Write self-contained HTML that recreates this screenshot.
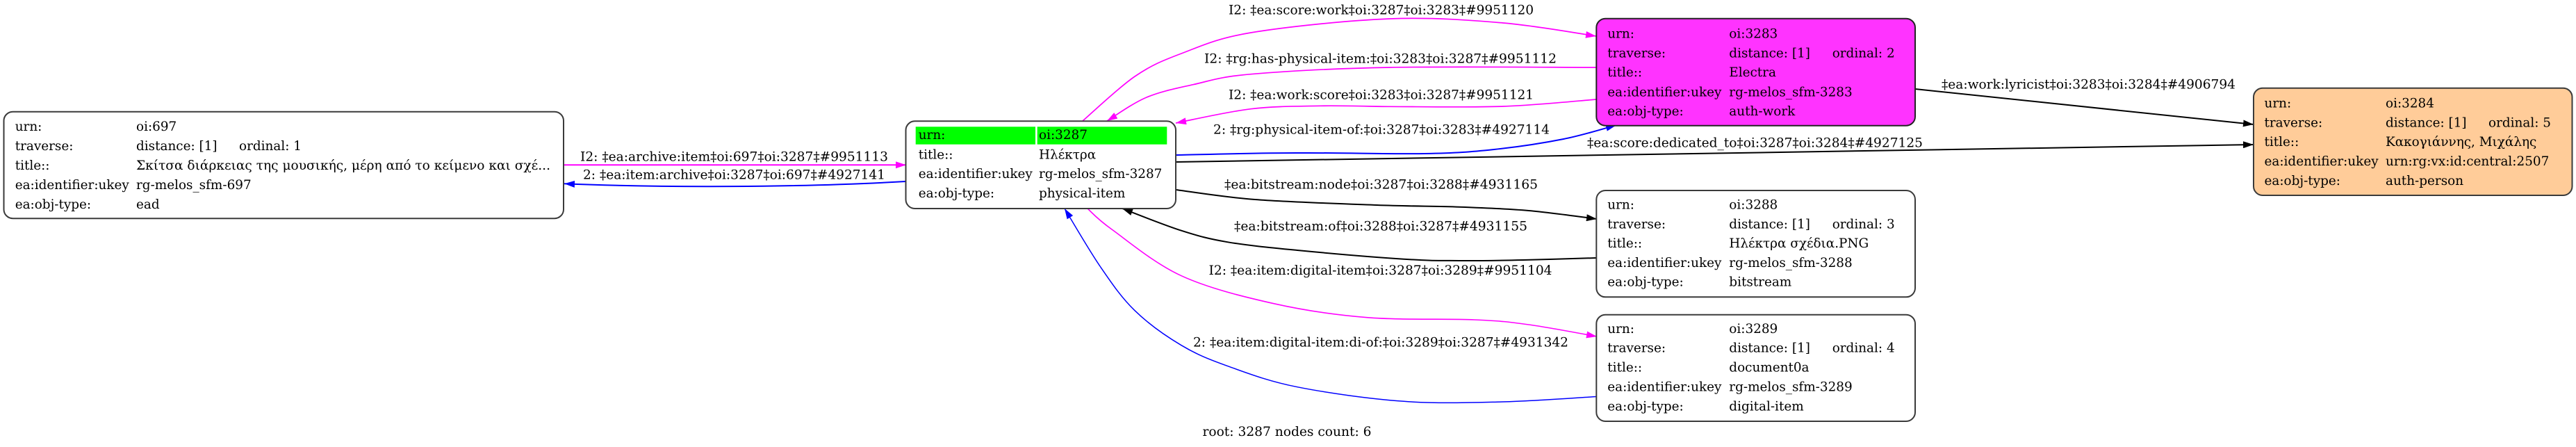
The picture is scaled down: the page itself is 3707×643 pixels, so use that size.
<!DOCTYPE html>
<html>
<head>
<meta charset="utf-8">
<style>
html,body{margin:0;padding:0;background:#fff;}
svg{display:block;}
text{font-family:"DejaVu Serif","Liberation Serif",serif;font-size:18.4px;fill:#000;}
</style>
</head>
<body>
<svg width="3707" height="643" viewBox="0 0 3707 643" xmlns="http://www.w3.org/2000/svg">
<defs>
<marker id="am" viewBox="0 0 15 10" refX="15" refY="5" markerWidth="15" markerHeight="10" markerUnits="userSpaceOnUse" orient="auto"><path d="M0,0 L15,5 L0,10 z" fill="#ff00ff"/></marker>
<marker id="ab" viewBox="0 0 15 10" refX="15" refY="5" markerWidth="15" markerHeight="10" markerUnits="userSpaceOnUse" orient="auto"><path d="M0,0 L15,5 L0,10 z" fill="#0000ff"/></marker>
<marker id="ak" viewBox="0 0 15 10" refX="15" refY="5" markerWidth="15" markerHeight="10" markerUnits="userSpaceOnUse" orient="auto"><path d="M0,0 L15,5 L0,10 z" fill="#000"/></marker>
</defs>
<rect x="0" y="0" width="3707" height="643" fill="#fff"/>

<!-- ===== EDGES ===== -->
<g fill="none">
<!-- E1 697 -> 3287 magenta -->
<path d="M811,237.3 L1304,237.3" stroke="#ff00ff" stroke-width="2" marker-end="url(#am)"/>
<!-- E2 3287 -> 697 blue -->
<path d="M1303,261 C1150,270 950,270 812,264.3" stroke="#0000ff" stroke-width="2" marker-end="url(#ab)"/>
<!-- E3 3287 -> 3283 magenta (score:work) -->
<path d="M1558,174 C1570.5,163.3 1609.3,126.2 1633,110 C1656.7,93.8 1672.2,87.5 1700,77 C1727.8,66.5 1750,55.3 1800,47 C1850,38.7 1939.5,29.3 2000,27 C2060.5,24.7 2113.5,28.8 2163,33 C2212.5,37.2 2274.7,48.8 2297,52" stroke="#ff00ff" stroke-width="1.7" marker-end="url(#am)"/>
<!-- E4 3283 -> 3287 magenta (has-physical-item) -->
<path d="M2297,97 C2247.5,97 2082.8,95.4 2000,97 C1917.2,98.6 1847.2,102.6 1800,106.7 C1752.8,110.8 1742,116.2 1717,121.7 C1692,127.3 1670.7,131.3 1650,140 C1629.3,148.7 1602.5,168.3 1593,174" stroke="#ff00ff" stroke-width="1.7" marker-end="url(#am)"/>
<!-- E5 3283 -> 3287 magenta (work:score) -->
<path d="M2297,143 C2274.7,144.7 2212.5,151.3 2163,153 C2113.5,154.7 2043.8,153.4 2000,153.3 C1977.2,153.2 1933.3,151.7 1900,152.3 C1866.7,152.9 1834.7,152.6 1800,156.7 C1765.3,160.8 1710,173.6 1692,177" stroke="#ff00ff" stroke-width="1.7" marker-end="url(#am)"/>
<!-- E6 3287 -> 3283 blue -->
<path d="M1692,223 C1722.2,222.5 1813.3,219.7 1873,220 C1932.7,219.7 2003.8,221.8 2050,221 C2096.2,220.2 2116.7,218.5 2150,215 C2183.3,211.5 2220.7,205.8 2250,200 C2279.3,194.2 2313.3,183.3 2326,180" stroke="#0000ff" stroke-width="2" marker-end="url(#ab)"/>
<!-- E7 3287 -> 3284 black -->
<path d="M1692,233 L3243,208" stroke="#000" stroke-width="2" marker-end="url(#ak)"/>
<!-- E8 3283 -> 3284 black -->
<path d="M2756,128 L3243,179" stroke="#000" stroke-width="2" marker-end="url(#ak)"/>
<!-- E9 3287 -> 3288 black -->
<path d="M1692,273 C1711,275.3 1757.8,283.3 1806,287 C1854.2,290.7 1932,293.2 1981,295 C2030,296.8 2063.5,296.4 2100,297.7 C2136.5,299 2167,300.1 2200,303 C2233,305.9 2281.7,313 2298,315" stroke="#000" stroke-width="2" marker-end="url(#ak)"/>
<!-- E10 3288 -> 3287 black -->
<path d="M2297,371 C2279.5,371.5 2224.8,373.3 2192,374 C2159.2,374.7 2128.7,375.2 2100,375 C2071.3,374.8 2058.8,375.2 2020,372.7 C1981.2,370.2 1909.2,364.1 1867,360 C1824.8,355.9 1794.8,353 1767,348.3 C1739.2,343.6 1725.3,339.8 1700,331.7 C1674.7,323.7 1629.2,305.3 1615,300" stroke="#000" stroke-width="2" marker-end="url(#ak)"/>
<!-- E11 3287 -> 3289 magenta -->
<path d="M1565,300 C1570.8,305 1577.5,313.9 1600,330 C1622.5,346.1 1661.2,378.9 1700,396.7 C1738.8,414.5 1788.5,426.7 1833,436.7 C1877.5,446.7 1918.8,452.8 1967,456.7 C2015.2,460.6 2083.2,458.3 2122,460 C2160.8,461.7 2170.7,463 2200,467 C2229.3,471 2281.7,481.2 2298,484" stroke="#ff00ff" stroke-width="1.6" marker-end="url(#am)"/>
<!-- E12 3289 -> 3287 blue -->
<path d="M2297,570.5 C2274.7,571.8 2209.2,576.9 2163,578 C2116.8,579.1 2069.3,580.9 2020,577.3 C1970.7,573.8 1909.2,565.1 1867,556.7 C1824.8,548.3 1794.8,536.7 1767,526.7 C1739.2,516.7 1722.3,510 1700,496.7 C1677.7,483.4 1652.5,465.7 1633,446.7 C1613.5,427.8 1599.8,407.5 1583,383 C1566.2,358.5 1540.5,313.8 1532,300" stroke="#0000ff" stroke-width="1.5" marker-end="url(#ab)"/>
</g>

<!-- ===== EDGE LABELS ===== -->
<g>
<text x="835" y="231.7" textLength="443" lengthAdjust="spacingAndGlyphs">I2: ‡ea:archive:item‡oi:697‡oi:3287‡#9951113</text>
<text x="839" y="257.7" textLength="435" lengthAdjust="spacingAndGlyphs">2: ‡ea:item:archive‡oi:3287‡oi:697‡#4927141</text>
<text x="1768" y="20.5" textLength="439" lengthAdjust="spacingAndGlyphs">I2: ‡ea:score:work‡oi:3287‡oi:3283‡#9951120</text>
<text x="1733" y="90.7" textLength="507" lengthAdjust="spacingAndGlyphs">I2: ‡rg:has-physical-item:‡oi:3283‡oi:3287‡#9951112</text>
<text x="1768" y="142.7" textLength="439" lengthAdjust="spacingAndGlyphs">I2: ‡ea:work:score‡oi:3283‡oi:3287‡#9951121</text>
<text x="1746" y="192.4" textLength="484" lengthAdjust="spacingAndGlyphs">2: ‡rg:physical-item-of:‡oi:3287‡oi:3283‡#4927114</text>
<text x="2284" y="211.4" textLength="483" lengthAdjust="spacingAndGlyphs">‡ea:score:dedicated_to‡oi:3287‡oi:3284‡#4927125</text>
<text x="2794" y="127.4" textLength="423" lengthAdjust="spacingAndGlyphs">‡ea:work:lyricist‡oi:3283‡oi:3284‡#4906794</text>
<text x="1762" y="271.4" textLength="451" lengthAdjust="spacingAndGlyphs">‡ea:bitstream:node‡oi:3287‡oi:3288‡#4931165</text>
<text x="1776" y="331.5" textLength="422" lengthAdjust="spacingAndGlyphs">‡ea:bitstream:of‡oi:3288‡oi:3287‡#4931155</text>
<text x="1739.5" y="395" textLength="494" lengthAdjust="spacingAndGlyphs">I2: ‡ea:item:digital-item‡oi:3287‡oi:3289‡#9951104</text>
<text x="1717" y="498.3" textLength="540" lengthAdjust="spacingAndGlyphs">2: ‡ea:item:digital-item:di-of:‡oi:3289‡oi:3287‡#4931342</text>
<text x="1730.5" y="627" textLength="243" lengthAdjust="spacingAndGlyphs">root: 3287 nodes count: 6</text>
</g>

<!-- ===== NODES ===== -->
<!-- 697 ead -->
<rect x="5.5" y="160.7" width="805.5" height="153.5" rx="13" ry="13" fill="#fff" stroke="#3a3a3a" stroke-width="2"/>
<text x="21.7" y="188">urn:</text><text x="196" y="188">oi:697</text>
<text x="21.7" y="216">traverse:</text><text x="196" y="216">distance: [1]</text><text x="344" y="216">ordinal: 1</text>
<text x="21.7" y="244">title::</text><text x="196" y="244" textLength="596" lengthAdjust="spacingAndGlyphs">Σκίτσα διάρκειας της μουσικής, μέρη από το κείμενο και σχέ...</text>
<text x="21.7" y="272">ea:identifier:ukey</text><text x="196" y="272">rg-melos_sfm-697</text>
<text x="21.7" y="300">ea:obj-type:</text><text x="196" y="300">ead</text>

<!-- 3287 root -->
<rect x="1303.5" y="174.3" width="388.5" height="125.7" rx="13" ry="13" fill="#fff" stroke="#3a3a3a" stroke-width="2"/>
<rect x="1317.7" y="182.3" width="172.3" height="25.4" fill="#00ff00"/>
<rect x="1492.7" y="182.3" width="186.6" height="25.4" fill="#00ff00"/>
<text x="1321.7" y="200">urn:</text><text x="1495" y="200">oi:3287</text>
<text x="1321.7" y="228.3">title::</text><text x="1495" y="228.3">Ηλέκτρα</text>
<text x="1321.7" y="256">ea:identifier:ukey</text><text x="1495" y="256">rg-melos_sfm-3287</text>
<text x="1321.7" y="284">ea:obj-type:</text><text x="1495" y="284">physical-item</text>

<!-- 3283 auth-work magenta -->
<rect x="2297.3" y="26.7" width="458.7" height="154" rx="13" ry="13" fill="#ff33ff" stroke="#222" stroke-width="2"/>
<text x="2313.3" y="54.3">urn:</text><text x="2488.3" y="54.3">oi:3283</text>
<text x="2313.3" y="82.3">traverse:</text><text x="2488.3" y="82.3">distance: [1]</text><text x="2636.7" y="82.3">ordinal: 2</text>
<text x="2313.3" y="110">title::</text><text x="2488.3" y="110">Electra</text>
<text x="2313.3" y="138.3">ea:identifier:ukey</text><text x="2488.3" y="138.3">rg-melos_sfm-3283</text>
<text x="2313.3" y="166">ea:obj-type:</text><text x="2488.3" y="166">auth-work</text>

<!-- 3284 auth-person orange -->
<rect x="3243" y="126.7" width="458.5" height="154.3" rx="13" ry="13" fill="#ffcc99" stroke="#3a3a3a" stroke-width="2"/>
<text x="3258.5" y="154.3">urn:</text><text x="3433" y="154.3">oi:3284</text>
<text x="3258.5" y="182.3">traverse:</text><text x="3433" y="182.3">distance: [1]</text><text x="3581" y="182.3">ordinal: 5</text>
<text x="3258.5" y="210">title::</text><text x="3433" y="210">Κακογιάννης, Μιχάλης</text>
<text x="3258.5" y="238">ea:identifier:ukey</text><text x="3433" y="238">urn:rg:vx:id:central:2507</text>
<text x="3258.5" y="266">ea:obj-type:</text><text x="3433" y="266">auth-person</text>

<!-- 3288 bitstream -->
<rect x="2297.3" y="274" width="458.7" height="153.3" rx="13" ry="13" fill="#fff" stroke="#3a3a3a" stroke-width="2"/>
<text x="2313.3" y="300.3">urn:</text><text x="2488.3" y="300.3">oi:3288</text>
<text x="2313.3" y="328.3">traverse:</text><text x="2488.3" y="328.3">distance: [1]</text><text x="2636.7" y="328.3">ordinal: 3</text>
<text x="2313.3" y="356">title::</text><text x="2488.3" y="356">Ηλέκτρα σχέδια.PNG</text>
<text x="2313.3" y="384">ea:identifier:ukey</text><text x="2488.3" y="384">rg-melos_sfm-3288</text>
<text x="2313.3" y="411.7">ea:obj-type:</text><text x="2488.3" y="411.7">bitstream</text>

<!-- 3289 digital-item -->
<rect x="2297.3" y="452.7" width="458.7" height="153.3" rx="13" ry="13" fill="#fff" stroke="#3a3a3a" stroke-width="2"/>
<text x="2313.3" y="478.8">urn:</text><text x="2488.3" y="478.8">oi:3289</text>
<text x="2313.3" y="506.7">traverse:</text><text x="2488.3" y="506.7">distance: [1]</text><text x="2636.7" y="506.7">ordinal: 4</text>
<text x="2313.3" y="534.5">title::</text><text x="2488.3" y="534.5">document0a</text>
<text x="2313.3" y="562.5">ea:identifier:ukey</text><text x="2488.3" y="562.5">rg-melos_sfm-3289</text>
<text x="2313.3" y="590.3">ea:obj-type:</text><text x="2488.3" y="590.3">digital-item</text>

</svg>
</body>
</html>
